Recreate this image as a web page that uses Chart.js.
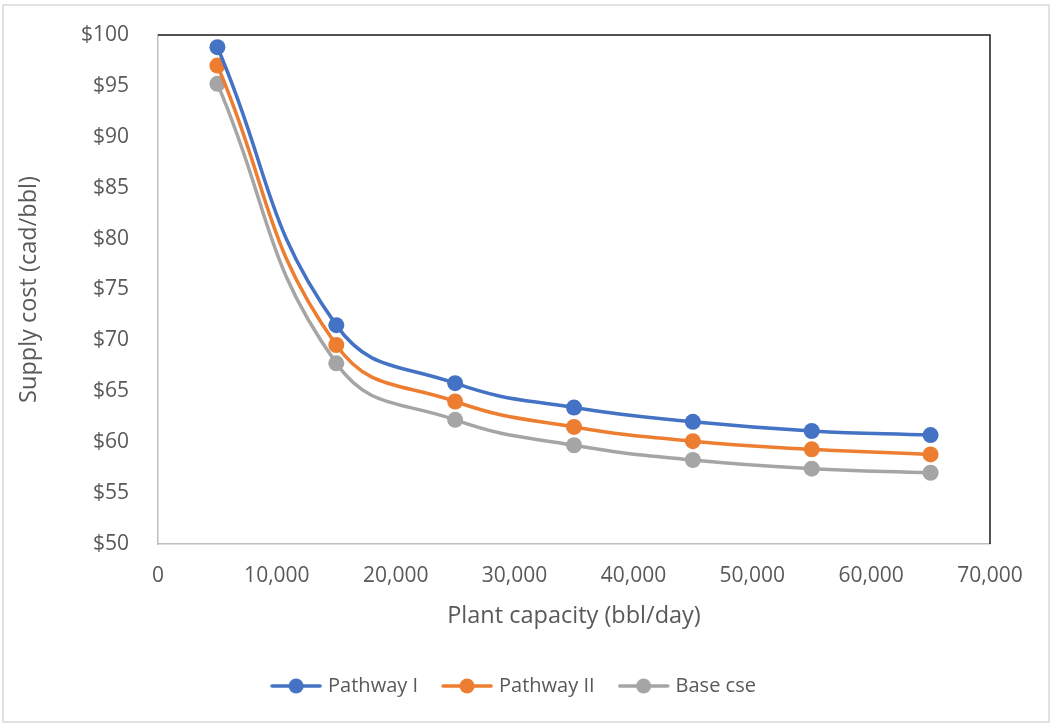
<!DOCTYPE html>
<html>
<head>
<meta charset="utf-8">
<script src="https://cdn.jsdelivr.net/npm/chart.js@4.4.1/dist/chart.umd.min.js"></script>
<style>
  html, body { margin: 0; padding: 0; background: #fff; }
  #wrap { width: 1051px; height: 724px; position: relative; }
</style>
</head>
<body>
<div id="wrap"><canvas id="c" width="1051" height="724"></canvas></div>
<script>
// ---- data ----
const capacities = [5000, 15000, 25000, 35000, 45000, 55000, 65000];
const pathwayI   = [98.8, 71.5, 65.8, 63.4, 62.0, 61.1, 60.7];
const pathwayII  = [97.0, 69.55, 64.0, 61.5, 60.1, 59.3, 58.8];
const baseCase   = [95.2, 67.75, 62.2, 59.7, 58.25, 57.4, 57.0];
const seriesNames = ['Pathway I', 'Pathway II', 'Base cse'];
const xTitle = 'Plant capacity (bbl/day)';
const yTitle = 'Supply cost (cad/bbl)';

const colors = ['#4472C4', '#ED7D31', '#A5A5A5'];
const FONT = "'Open Sans', 'Liberation Sans', sans-serif";
const TEXT = '#595959';

function pts(ys) { return capacities.map((x, i) => ({ x: x, y: ys[i] })); }

function legendIcon(color) {
  const c = document.createElement('canvas');
  c.width = 52; c.height = 18;
  const g = c.getContext('2d');
  g.strokeStyle = color; g.lineWidth = 3.5; g.lineCap = 'round';
  g.beginPath(); g.moveTo(2, 9); g.lineTo(50, 9); g.stroke();
  g.fillStyle = color;
  g.beginPath(); g.arc(26, 9, 7.5, 0, Math.PI * 2); g.fill();
  return c;
}
const icons = colors.map(legendIcon);

const frame = {
  id: 'frame',
  afterLayout(chart) {
    const lg = chart.legend;
    if (lg) { lg.left += 20; lg.right += 20; }
  },
  beforeDraw(chart) {
    const ctx = chart.ctx;
    ctx.save();
    ctx.fillStyle = '#fff';
    ctx.fillRect(0, 0, chart.width, chart.height);
    ctx.strokeStyle = '#d9d9d9';
    ctx.lineWidth = 1.5;
    ctx.strokeRect(3, 5, 1046, 717);
    ctx.restore();
  },
  afterDatasetsDraw(chart) {
    const a = chart.chartArea, ctx = chart.ctx;
    ctx.save();
    ctx.strokeStyle = '#1a1a1a';
    ctx.lineWidth = 1.5;
    ctx.beginPath();
    ctx.moveTo(a.left, a.top);
    ctx.lineTo(a.right, a.top);
    ctx.lineTo(a.right, a.bottom);
    ctx.stroke();
    ctx.restore();
  }
};

const datasets = [pathwayI, pathwayII, baseCase].map((ys, i) => ({
  label: seriesNames[i],
  data: pts(ys),
  borderColor: colors[i],
  backgroundColor: colors[i],
  borderWidth: 3.5,
  pointRadius: 8,
  pointHoverRadius: 8,
  pointBorderWidth: 0,
  tension: 0.45,
  fill: false
}));

new Chart(document.getElementById('c'), {
  type: 'line',
  data: { datasets },
  plugins: [frame],
  options: {
    responsive: false,
    animation: false,
    layout: { padding: { left: 0, top: 35, right: 61, bottom: 18 } },
    plugins: {
      tooltip: { enabled: false },
      legend: {
        position: 'bottom',
        labels: {
          usePointStyle: true,
          pointStyleWidth: 44,
          padding: 27,
          color: TEXT,
          font: { family: FONT, size: 20 },
          generateLabels(chart) {
            return chart.data.datasets.map((d, i) => ({
              text: d.label,
              fillStyle: colors[i],
              strokeStyle: colors[i],
              lineWidth: 0,
              pointStyle: icons[i],
              fontColor: TEXT,
              hidden: false,
              datasetIndex: i
            }));
          }
        }
      }
    },
    scales: {
      x: {
        type: 'linear',
        min: 0, max: 70000,
        grid: { display: false, drawTicks: false },
        border: { display: true, color: '#bfbfbf', width: 1.5 },
        ticks: {
          stepSize: 10000,
          padding: 19,
          color: TEXT,
          font: { family: FONT, size: 21 },
          callback: v => v.toLocaleString('en-US')
        },
        title: {
          display: true, text: xTitle, color: TEXT,
          font: { family: FONT, size: 23.5 },
          padding: { top: 0, bottom: 19 }
        },
        afterFit(s) { s.height = 105; }
      },
      y: {
        min: 50, max: 100,
        grid: { display: false, drawTicks: false },
        border: { display: true, color: '#bfbfbf', width: 1.5 },
        ticks: {
          stepSize: 5,
          padding: 29,
          color: TEXT,
          font: { family: FONT, size: 21 },
          callback: v => '$' + v
        },
        title: {
          display: true, text: yTitle, color: TEXT,
          font: { family: FONT, size: 23.5 },
          padding: { top: 15, bottom: 0 }
        },
        afterFit(s) { s.width = 158; s.paddingTop = 0; s.paddingBottom = 0; }
      }
    }
  }
});
</script>
</body>
</html>
